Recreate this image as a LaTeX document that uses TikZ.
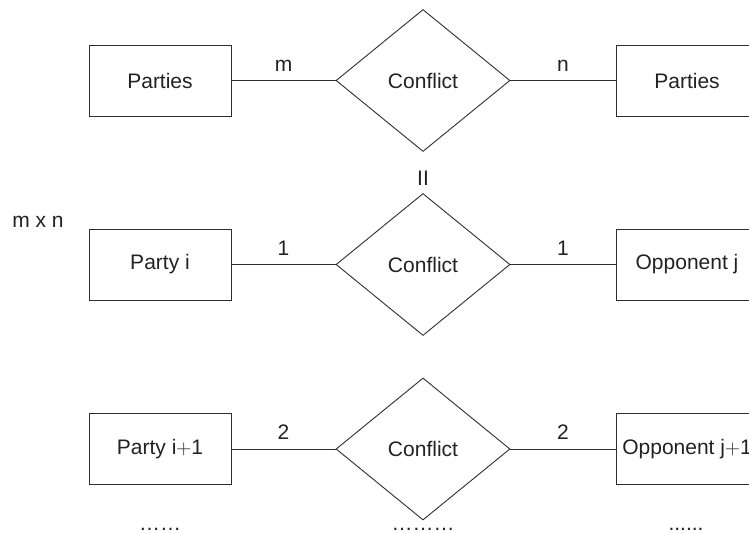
\documentclass[tikz,border=0pt]{standalone}
\usepackage{fontspec}
\setmainfont{Liberation Sans}
\usetikzlibrary{shapes.geometric}
\definecolor{ln}{HTML}{2E2E2E}
\definecolor{tx}{HTML}{222222}
\begin{document}
\begin{tikzpicture}[x=1pt,y=-1pt,
  font=\fontsize{21}{25}\selectfont, text=tx,
  ent/.style={draw=ln, line width=0.9pt, minimum width=142pt, minimum height=71pt, inner sep=0pt},
  rel/.style={draw=ln, line width=0.9pt, diamond, minimum width=174pt, minimum height=142pt, inner sep=0pt},
  conn/.style={draw=ln, line width=0.9pt},
  lbl/.style={anchor=south, inner sep=0pt, yshift=9pt},
  plain/.style={inner sep=0pt}]
\useasboundingbox (0,0) rectangle (749,533);
\clip (0,0) rectangle (749,533);
% row 1
\node[ent] (p1) at (160,80.5) {Parties};
\node[rel] (c1) at (423,80.5) {Conflict};
\node[ent] (q1) at (687,80.5) {Parties};
\draw[conn] (p1.east) -- node[lbl] {m} (c1.west);
\draw[conn] (c1.east) -- node[lbl] {n} (q1.west);
% equivalence mark
\node[plain] (eq) at (423,178) {II};
\node[plain] (mxn) at (38,222) {m x n};
% row 2
\node[ent] (p2) at (160,264.5) {Party i};
\node[rel] (c2) at (423,264.5) {Conflict};
\node[ent] (q2) at (687,264.5) {Opponent j};
\draw[conn] (p2.east) -- node[lbl] {1} (c2.west);
\draw[conn] (c2.east) -- node[lbl] {1} (q2.west);
% row 3
\node[ent] (p3) at (160,449) {Party i$+$1};
\node[rel] (c3) at (423,449) {Conflict};
\node[ent] (q3) at (687,449) {Opponent j$+$1};
\draw[conn] (p3.east) -- node[lbl] {2} (c3.west);
\draw[conn] (c3.east) -- node[lbl] {2} (q3.west);
% continuation dots
\node[plain, anchor=base] (d1) at (160,530) {……};
\node[plain, anchor=base] (d2) at (423,530) {………};
\node[plain, anchor=base] (d3) at (686,530) {......};
\end{tikzpicture}
\end{document}
